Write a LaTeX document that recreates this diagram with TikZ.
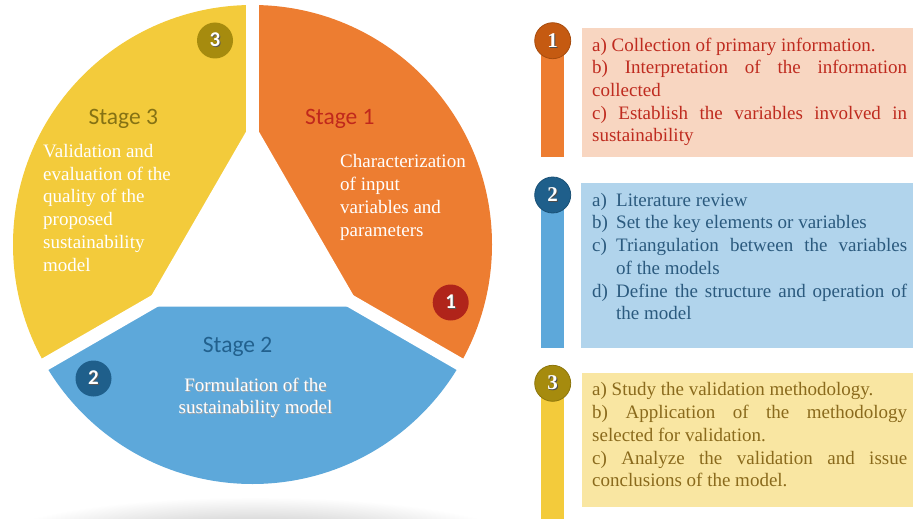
\documentclass[tikz,border=0pt]{standalone}
\usepackage{fontspec}
\setmainfont{Liberation Serif}
\newfontfamily\stagefont{Carlito}

\definecolor{wheelYellow}{HTML}{F3CB3B}
\definecolor{wheelOrange}{HTML}{ED7D31}
\definecolor{wheelBlue}{HTML}{5DA8DA}
\definecolor{stageOneText}{HTML}{C0281C}
\definecolor{stageTwoText}{HTML}{22618E}
\definecolor{stageThreeText}{HTML}{857214}
\definecolor{badgeRed}{HTML}{B0241A}
\definecolor{badgeNavy}{HTML}{1F5F8B}
\definecolor{badgeOlive}{HTML}{A68B0E}
\definecolor{badgeRust}{HTML}{C55A11}
\definecolor{peachBox}{HTML}{F8D6C1}
\definecolor{skyBox}{HTML}{B1D4EC}
\definecolor{creamBox}{HTML}{F9E6A2}
\definecolor{peachText}{HTML}{BF2B1F}
\definecolor{skyText}{HTML}{2B5A7E}
\definecolor{creamText}{HTML}{8A6A1C}

% text with a small drop shadow below and to the right
\newcommand\dropshadow[2]{\makebox[0pt][l]{\kern0.9pt\raisebox{-0.9pt}{\color{#1}#2}}#2}
% one lettered item with a hanging indent (end each item with \par)
\newcommand\letteritem[1]{\hangindent=24pt\hangafter=1\noindent\makebox[24pt][l]{#1}}

\begin{document}
\begin{tikzpicture}[x=1pt,y=-1pt,
  stagelabel/.style={anchor=base west, inner sep=0pt, font=\stagefont\fontsize{23.5}{28}\selectfont},
  wheeltext/.style={anchor=north west, inner sep=0pt, text=white, align=left, font=\fontsize{19}{22.7}\selectfont},
  wheelbadge/.style={circle, inner sep=0pt, minimum size=36pt, text=white, font=\stagefont\bfseries\fontsize{21}{24}\selectfont},
  panelbadge/.style={circle, inner sep=0pt, minimum size=36pt, text=white, font=\bfseries\fontsize{21}{24}\selectfont},
  paneltext/.style={anchor=north west, inner sep=0pt, text width=315pt, align=justify,
    font=\fontsize{19}{22.7}\selectfont,
    execute at begin node={\parindent=0pt\parskip=0pt\tolerance=10000\hyphenpenalty=10000\relax}},
]
\useasboundingbox (0,0) rectangle (913,519);

% soft floor shadow under the wheel
\begin{scope}
  \clip (0,0) rectangle (913,519);
  \shade[inner color=black!30, outer color=white] (255,545) ellipse [x radius=270, y radius=48];
\end{scope}

% the wheel: three coloured sectors
\coordinate (hub) at (252.5,244.5);
\begin{scope}
  \clip (hub) circle [radius=239.5];
  \fill[wheelOrange] (hub) -- (252.5,-30) -- (600,-30) -- (600,445.1) -- cycle;
  \fill[wheelBlue] (hub) -- (600,445.1) -- (600,600) -- (-100,600) -- (-100,448) -- cycle;
  \fill[wheelYellow] (hub) -- (-100,448) -- (-100,-30) -- (252.5,-30) -- cycle;
\end{scope}
% white gaps between the sectors and the triangular opening
\coordinate (gapTop) at (252.5,-10);
\coordinate (gapRight) at (469,369.5);
\coordinate (gapLeft) at (36,369.5);
\draw[white, line width=13pt, line cap=butt] (hub) -- (gapTop);
\draw[white, line width=13pt, line cap=butt] (hub) -- (gapRight);
\draw[white, line width=13pt, line cap=butt] (hub) -- (gapLeft);
\fill[white] (252.5,120.5) -- (145.1,306.5) -- (359.9,306.5) -- cycle;

% stage titles
\node[stagelabel, text=stageThreeText] (stThree) at (88.3,124) {Stage 3};
\node[stagelabel, text=stageOneText] (stOne) at (305,124) {Stage 1};
\node[stagelabel, text=stageTwoText] (stTwo) at (202.7,352.3) {Stage 2};

% stage descriptions
\node[wheeltext] (dsThree) at (43,142.3) {\rule{0pt}{15pt}Validation and\\evaluation of the\\quality of the\\proposed\\sustainability\\model};
\node[wheeltext] (dsOne) at (340,152.7) {\rule{0pt}{15pt}Characterization\\of input\\variables and\\parameters};
\node[wheeltext, anchor=north, align=center, font=\fontsize{19}{22}\selectfont] (dsTwo) at (255.5,376.7)
  {\rule{0pt}{15pt}\dropshadow{black!35}{Formulation of the}\\\dropshadow{black!35}{sustainability model}};

% numbered badges on the wheel
\node[wheelbadge, fill=badgeOlive] (wbThree) at (215,40.5) {\dropshadow{black!65}{3}};
\node[wheelbadge, fill=badgeRed] (wbOne) at (450.7,302.5) {\dropshadow{black!65}{1}};
\node[wheelbadge, fill=badgeNavy] (wbTwo) at (93.5,378.5) {\dropshadow{black!65}{2}};

% panel 1
\fill[peachBox] (581.7,28) rectangle (913,157);
\fill[wheelOrange] (541,40.7) rectangle (564,157);
\node[panelbadge, fill=badgeRust, draw=badgeRust!85!black, line width=0.8pt] (pbOne) at (552.7,40.7) {\dropshadow{black!70}{1}};
\node[paneltext, text=peachText] (ptOne) at (592,36) {\rule{0pt}{15pt}a) Collection of primary information.\par
b) Interpretation of the information\linebreak collected\par
c) Establish the variables involved in\linebreak sustainability};

% panel 2
\fill[skyBox] (580.7,183.3) rectangle (913,348);
\fill[wheelBlue] (541,195) rectangle (564,348);
\node[panelbadge, fill=badgeNavy, draw=badgeNavy!85!black, line width=0.8pt] (pbTwo) at (552.7,195) {\dropshadow{black!70}{2}};
\node[paneltext, text=skyText] (ptTwo) at (592,191) {\letteritem{\rule{0pt}{15pt}a)}Literature review\par
\letteritem{b)}Set the key elements or variables\par
\letteritem{c)}Triangulation between the variables\linebreak of the models\par
\letteritem{d)}Define the structure and operation of\linebreak the model\par};

% panel 3
\fill[creamBox] (581.7,372.7) rectangle (913,506.7);
\fill[wheelYellow] (541,383.3) rectangle (564,519);
\node[panelbadge, fill=badgeOlive, draw=badgeOlive!85!black, line width=0.8pt] (pbThree) at (552.7,383.3) {\dropshadow{black!70}{3}};
\node[paneltext, text=creamText] (ptThree) at (592,380.7) {\rule{0pt}{15pt}a) Study the validation methodology.\par
b) Application of the methodology\linebreak selected for validation.\par
c) Analyze the validation and issue\linebreak conclusions of the model.};
\end{tikzpicture}
\end{document}
